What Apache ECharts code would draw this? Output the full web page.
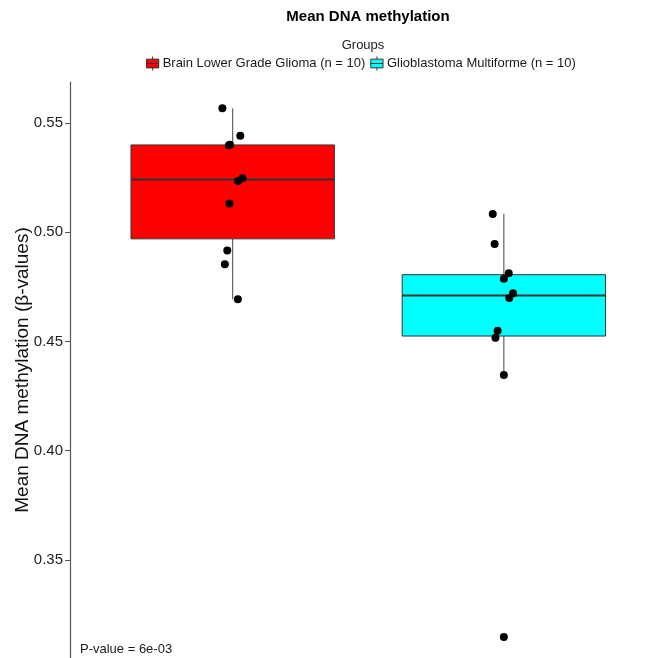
<!DOCTYPE html>
<html><head><meta charset="utf-8">
<script src="https://cdn.jsdelivr.net/npm/echarts@6/dist/echarts.min.js"></script>
<style>html,body{margin:0;padding:0;background:#fff}#c{width:653px;height:658px}</style>
</head><body><div id="c"></div>
<script>
const groups = ['Brain Lower Grade Glioma (n = 10)', 'Glioblastoma Multiforme (n = 10)'];
const groupColors = ['#FF0000', '#00FFFF'];
const lggValues = [0.5567, 0.5442, 0.5398, 0.5400, 0.5247, 0.5235, 0.5131, 0.4916, 0.4854, 0.4693];
const lggJitter = [-0.038, 0.028, -0.014, -0.010, 0.036, 0.020, -0.012, -0.020, -0.029, 0.019];
const gbmValues = [0.5084, 0.4946, 0.4812, 0.4787, 0.4721, 0.4699, 0.4549, 0.4517, 0.4347, 0.3148];
const gbmJitter = [-0.041, -0.034, 0.018, 0.000, 0.034, 0.020, -0.023, -0.031, 0.000, 0.000];
const yTicks = [0.35, 0.40, 0.45, 0.50, 0.55];
const titleText = 'Mean DNA methylation';
const legendTitle = 'Groups';
const yAxisTitle = 'Mean DNA methylation (\u03B2-values)';
const pValueText = 'P-value = 6e-03';

function quantile7(sorted, p) {
  const h = (sorted.length - 1) * p;
  const lo = Math.floor(h), hi = Math.ceil(h);
  return sorted[lo] + (h - lo) * (sorted[hi] - sorted[lo]);
}
function boxStats(values) {
  const s = values.slice().sort((a, b) => a - b);
  const q1 = quantile7(s, 0.25), med = quantile7(s, 0.5), q3 = quantile7(s, 0.75);
  const iqr = q3 - q1;
  const inside = s.filter(v => v >= q1 - 1.5 * iqr && v <= q3 + 1.5 * iqr);
  return [inside[0], q1, med, q3, inside[inside.length - 1]];
}

const allValues = [lggValues, gbmValues];
const allJitter = [lggJitter, gbmJitter];
const FONT = 'Liberation Sans, Arial, Helvetica, sans-serif';

function boxRender(color) {
  return function (params, api) {
    const x = api.value(0);
    const lo = api.value(1), q1 = api.value(2), med = api.value(3), q3 = api.value(4), hi = api.value(5);
    const half = 0.375;
    const pTL = api.coord([x - half, q3]);
    const pBR = api.coord([x + half, q1]);
    const pMed = api.coord([x, med]);
    const pHi = api.coord([x, hi]), pLo = api.coord([x, lo]);
    const pQ1 = api.coord([x, q1]), pQ3 = api.coord([x, q3]);
    return {
      type: 'group',
      children: [
        { type: 'line', shape: { x1: pHi[0], y1: pHi[1], x2: pQ3[0], y2: pQ3[1] }, style: { stroke: '#444', lineWidth: 1 } },
        { type: 'line', shape: { x1: pQ1[0], y1: pQ1[1], x2: pLo[0], y2: pLo[1] }, style: { stroke: '#444', lineWidth: 1 } },
        { type: 'rect', shape: { x: pTL[0], y: pTL[1], width: pBR[0] - pTL[0], height: pBR[1] - pTL[1] }, style: { fill: color, stroke: '#333', lineWidth: 1 } },
        { type: 'line', shape: { x1: pTL[0], y1: pMed[1], x2: pBR[0], y2: pMed[1] }, style: { stroke: '#333', lineWidth: 2 } }
      ]
    };
  };
}

const series = groups.map((g, i) => ({
  type: 'custom',
  name: g,
  itemStyle: { color: groupColors[i] },
  renderItem: boxRender(groupColors[i]),
  encode: { x: 0, y: [1, 2, 3, 4, 5] },
  data: [[i + 1].concat(boxStats(allValues[i]))],
  z: 2
}));

const pts = [];
allValues.forEach((vals, i) => vals.forEach((v, j) => pts.push([i + 1 + allJitter[i][j], v])));
series.push({
  type: 'scatter',
  name: 'points',
  data: pts,
  symbol: 'circle',
  symbolSize: 8,
  itemStyle: { color: '#000', opacity: 1 },
  z: 5,
  silent: true
});

const boxIcon = 'path://M7,0L7,3M0,3L14,3L14,13L0,13ZM0,8L14,8M7,13L7,16';

const chart = echarts.init(document.getElementById('c'), null, { renderer: 'canvas' });
chart.setOption({
  animation: false,
  backgroundColor: '#fff',
  textStyle: { fontFamily: FONT },
  grid: { left: 70, right: 0, top: 82, bottom: 0, containLabel: false, outerBoundsMode: 'none' },
  legend: {
    data: groups.map(g => ({ name: g, icon: boxIcon })),
    left: 146, top: 56, padding: 0,
    itemWidth: 14, itemHeight: 14, itemGap: 5,
    itemStyle: { borderColor: '#333', borderWidth: 1 },
    textStyle: { fontSize: 13, color: '#1a1a1a', fontFamily: FONT, padding: [0, 0, 0, -2] },
    selectedMode: false
  },
  xAxis: { type: 'value', min: 0.4, max: 2.55, show: false },
  yAxis: {
    type: 'value', min: 0.30515, max: 0.56876,
    name: yAxisTitle, nameLocation: 'middle', nameGap: 38, nameMoveOverlap: false,
    nameTextStyle: { fontSize: 19, color: '#111', fontFamily: FONT },
    axisLine: { show: true, lineStyle: { color: '#555', width: 1.2 } },
    axisTick: { show: true, length: 5, customValues: yTicks, lineStyle: { color: '#555' } },
    axisLabel: { customValues: yTicks, fontSize: 15, color: '#222', margin: 7, fontFamily: FONT,
      formatter: v => v.toFixed(2) },
    splitLine: { show: false }
  },
  graphic: [
    { type: 'text', x: 368, y: 17, style: { text: titleText, fill: '#000', font: 'bold 15px ' + FONT, textAlign: 'center', textVerticalAlign: 'middle' } },
    { type: 'text', x: 363, y: 45, style: { text: legendTitle, fill: '#1a1a1a', font: '13px ' + FONT, textAlign: 'center', textVerticalAlign: 'middle' } },
    { type: 'text', x: 80, y: 649, style: { text: pValueText, fill: '#1a1a1a', font: '13px ' + FONT, textAlign: 'left', textVerticalAlign: 'middle' } }
  ],
  series: series
});
</script></body></html>
